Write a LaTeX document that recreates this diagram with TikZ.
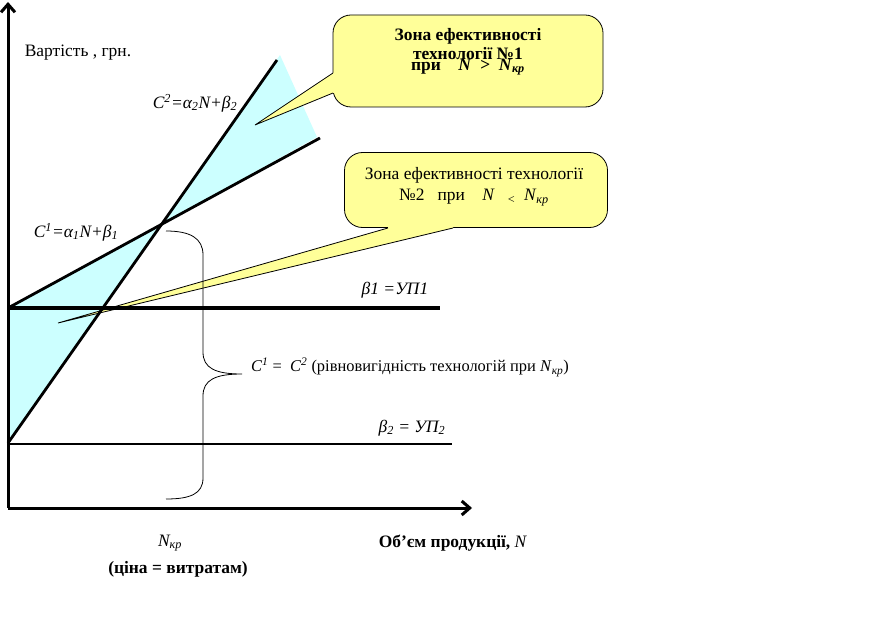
\documentclass[tikz,border=0pt]{standalone}
\usepackage{fontspec}
\setmainfont{Liberation Serif}
\newfontfamily\timesfont{Liberation Serif}
\usetikzlibrary{arrows.meta,positioning}
\definecolor{zonecyan}{RGB}{204,255,255}
\definecolor{noteyellow}{RGB}{255,255,153}
\tikzset{
  axis/.style={line width=3bp, -{Straight Barb[length=8bp,width=14bp]}},
  costline/.style={line width=2.8bp},
  note/.style={draw, line width=0.8bp, fill=noteyellow, rounded corners=18bp},
  lbl/.style={font=\timesfont\fontsize{17.5}{21}\selectfont, inner sep=0pt},
  ilbl/.style={lbl, font=\timesfont\fontsize{17.5}{21}\selectfont\itshape},
  blbl/.style={lbl, font=\timesfont\fontsize{17.5}{19}\selectfont\bfseries}
}
\begin{document}
\begin{tikzpicture}[x=1bp, y=-1bp]
      \useasboundingbox (0,0) rectangle (873,617);

      \coordinate (b1) at (8,308);
      \coordinate (b2) at (8,443);
      \coordinate (c1end) at (320,138);
      \coordinate (c2end) at (277,60);
      \coordinate (cross) at (intersection of b1--c1end and b2--c2end);
      \coordinate (tip1) at (255,125);
      \coordinate (tip2) at (58,323);

      \fill[zonecyan] (b1) -- (cross) -- (b2) -- cycle;
      \fill[zonecyan] (cross) -- (280,55) -- (317,137) -- cycle;

      \node[note, minimum width=270bp, minimum height=92bp] (zone1) at (468,61) {};
      \node[note, minimum width=263bp, minimum height=75bp] (zone2) at (476,190) {};

      \fill[noteyellow] (tip1) -- (333,73) -- (338,73) -- (338,93) -- (333,93) -- cycle;
      \draw[line width=0.8bp] (333,73) -- (tip1) -- (333,93);
      \fill[noteyellow] (tip2) -- (388,228) -- (388,223) -- (453,223) -- (453,228) -- cycle;
      \draw[line width=0.8bp] (388,228) -- (tip2) -- (453,228);

      \node[blbl, align=center] (zone1text) at (468,52)
        {Зона ефективності\\технології №1\\[-8bp]при\quad\textit{N}\ \ >\ \ \textit{N}\textsubscript{\textit{кр}}};
      \node[lbl, align=center] (zone2text) at (474,187)
        {Зона ефективності технології\\№2\ \ \ при\ \ \ \ \textit{N}\ \ \ \textsubscript{<}\ \ \textit{N}\textsubscript{\textit{кр}}};

      \draw[costline] (b1) -- (c1end);
      \draw[costline] (b2) -- (c2end);
      \draw[line width=3.5bp] (b1) -- (440,308);
      \draw[line width=2bp] (8,444) -- (452,444);

      \draw[line width=0.8bp] (166,231) .. controls (190,231) and (203,238) .. (203,255)
        -- (203,352) .. controls (203,368) and (215,374) .. (242,374)
        .. controls (215,374) and (203,380) .. (203,396)
        -- (203,478) .. controls (203,494) and (190,499) .. (166,499);

      \draw[axis] (8,508) -- (8,2);
      \draw[axis] (8,508) -- (472,508);

      \node[lbl] (cost) at (78,53) {Вартість , грн.};
      \node[ilbl] (eqtwo) at (195,103) {C\textsuperscript{2}=α\textsubscript{2}N+β\textsubscript{2}};
      \node[ilbl] (eqone) at (76,232) {C\textsuperscript{1}=α\textsubscript{1}N+β\textsubscript{1}};
      \node[ilbl] (betaone) at (395,290) {β1 =УП1};
      \node[ilbl] (betatwo) at (412,428) {β\textsubscript{2} = УП\textsubscript{2}};
      \node[lbl, font=\timesfont\fontsize{16.5}{19}\selectfont] (equal) at (410,367)
        {\textit{C}\textsuperscript{\textit{1}} = \ \textit{C}\textsuperscript{\textit{2}} (рівновигідність технологій при \textit{N}\textsubscript{\textit{кр}})};
      \node[blbl] (volume) at (453,543) {Об’єм продукції, \mdseries\textit{N}};
      \node[ilbl] (ncr) at (170,543) {N\textsubscript{кр}};
      \node[blbl] (price) at (178,569) {(ціна = витратам)};
\end{tikzpicture}
\end{document}
